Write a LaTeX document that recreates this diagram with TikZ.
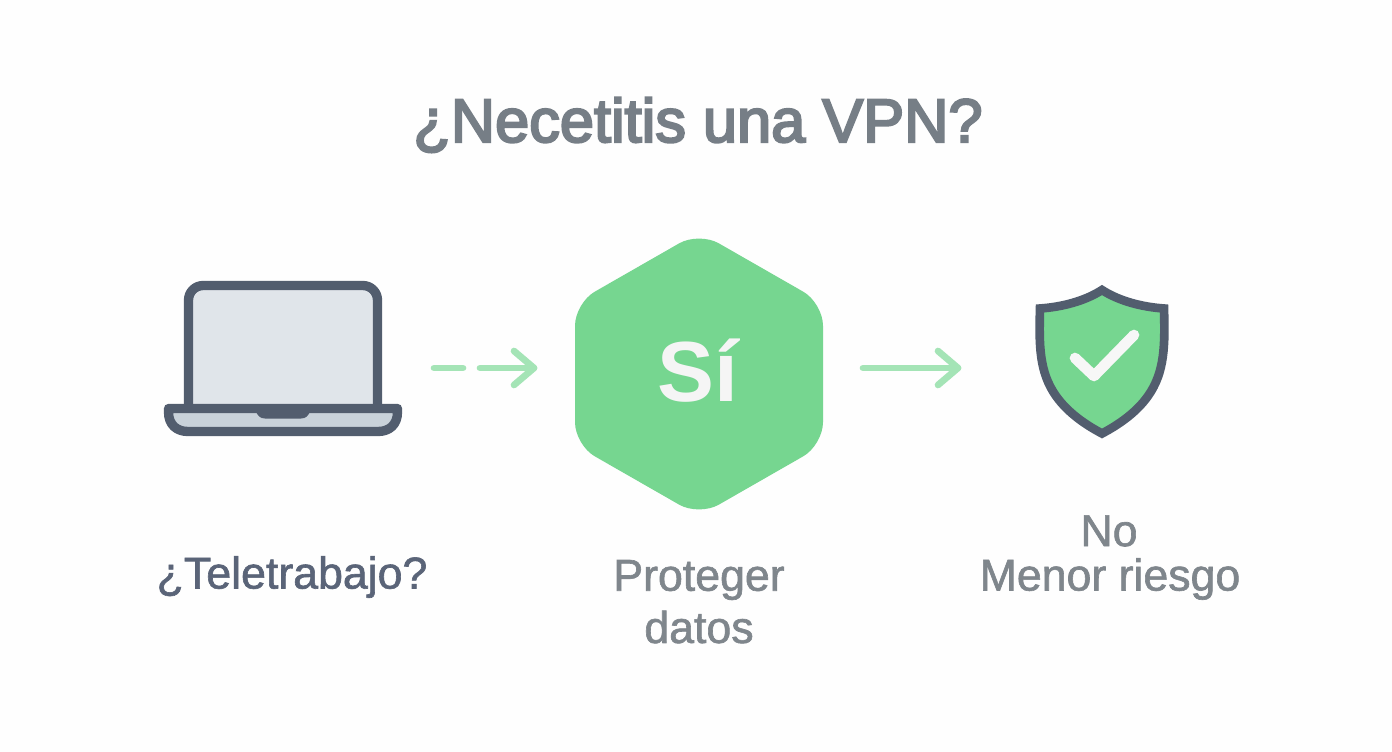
\documentclass[tikz,border=0pt]{standalone}
\usepackage{fontspec}
\setmainfont{Liberation Sans}
\newfontfamily\medfont[FakeBold=3.6]{Liberation Sans}
\newfontfamily\lightfont[FakeBold=1.4]{Liberation Sans}
\usetikzlibrary{calc}
\definecolor{slatec}{HTML}{525D6E}
\definecolor{greenc}{HTML}{76D690}
\definecolor{arrowc}{HTML}{A4E4B6}
\definecolor{titlec}{HTML}{767E86}
\definecolor{labelc}{HTML}{5A6478}
\definecolor{subc}{HTML}{7F868C}
\definecolor{screenc}{HTML}{E0E5EA}
\definecolor{trayc}{HTML}{C9D2DA}
\tikzset{
  pxscale/.style={x=0.75pt,y=-0.75pt},
  flow/.style={draw=arrowc,line width=5pt,line cap=round,line join=round},
  titletext/.style={font=\medfont\fontsize{46}{52}\selectfont,text=titlec,inner sep=0pt},
  steplabel/.style={font=\lightfont\fontsize{33.5}{40}\selectfont,text=subc,inner sep=0pt,align=center},
}
\begin{document}
\begin{tikzpicture}[pxscale]
\useasboundingbox (0,0) rectangle (1392,752);
\fill[white!99.5!black] (0,0) rectangle (1392,752);
% title
\node[titletext] (title) at (698,125) {¿Necetitis una VPN?};
% laptop
\draw[fill=screenc,draw=slatec,line width=7pt,rounded corners=11pt,line join=round]
  (188.5,404) -- (188.5,285.5) -- (377.5,285.5) -- (377.5,404);
\draw[fill=trayc,draw=slatec,line width=7pt,line join=round]
  (168.5,408.5) -- (397.5,408.5) -- (397.5,412) .. controls (397.5,425) and (389,431.5) .. (378,431.5)
  -- (188,431.5) .. controls (177,431.5) and (168.5,425) .. (168.5,412) -- cycle;
\fill[slatec] (255,410) -- (311,410) .. controls (308,416) and (306,418.5) .. (301,418.5)
  -- (265,418.5) .. controls (260,418.5) and (258,416) .. (255,410) -- cycle;
\node[inner sep=0pt,minimum size=0pt] (laptop) at (283,368) {};
% hexagon
\fill[greenc,rounded corners=17pt] (699,232) -- (823,303) -- (823,445) -- (699,516) -- (575,445) -- (575,303) -- cycle;
\node[font=\bfseries\fontsize{64}{72}\selectfont,text=white!96!black,inner sep=0pt] (si) at (698,371) {Sí};
\coordinate (hexleft) at (534,368);
\coordinate (hexright) at (863,368);
% shield
\draw[fill=greenc,draw=slatec,line width=6.5pt,line join=miter]
  (1102,290) .. controls (1085,301) and (1062,307) .. (1040,308.5)
  .. controls (1039,345) and (1039,372) .. (1056,396)
  .. controls (1068,413) and (1086,425) .. (1102,433.5)
  .. controls (1118,425) and (1136,413) .. (1148,396)
  .. controls (1165,372) and (1165,345) .. (1164,308.5)
  .. controls (1142,307) and (1119,301) .. (1102,290) -- cycle;
\draw[draw=white!97!black,line width=8pt,line cap=round,line join=round] (1075,358) -- (1094,376) -- (1134,335);
\coordinate (shieldleft) at (958,368);
% arrows
\coordinate (d1) at (434,368);
\coordinate (d2) at (463,368);
\coordinate (a1) at (480,368);
\draw[flow] (d1) -- (d2);
\draw[flow] (a1) -- (hexleft);
\draw[flow] ($(hexleft)+(-20,-17)$) -- (hexleft) -- ($(hexleft)+(-20,17)$);
\draw[flow] (hexright) -- (shieldleft);
\draw[flow] ($(shieldleft)+(-20,-17)$) -- (shieldleft) -- ($(shieldleft)+(-20,17)$);
% labels
\node[steplabel,text=labelc] (l1) at (292,577) {¿Teletrabajo?};
\node[steplabel] (l2a) at (699,580) {Proteger};
\node[steplabel] (l2b) at (699,627) {datos};
\node[steplabel] (l3a) at (1109,531) {No};
\node[steplabel] (l3b) at (1110,579) {Menor riesgo};
\end{tikzpicture}
\end{document}
